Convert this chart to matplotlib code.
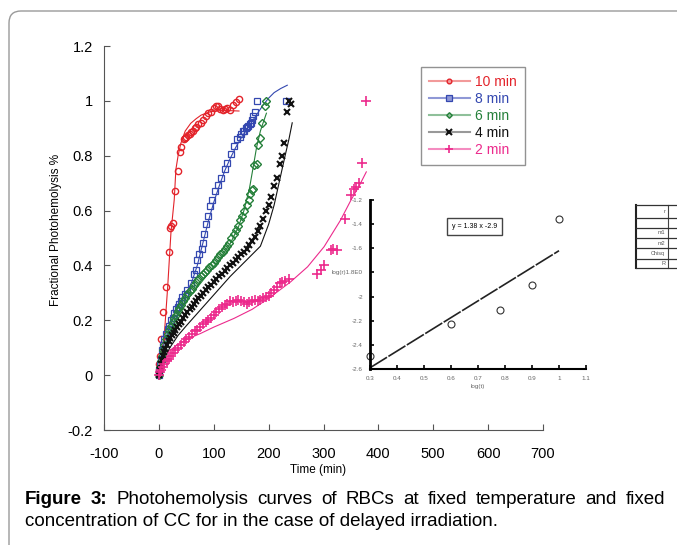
import matplotlib
matplotlib.use("Agg")
import matplotlib.pyplot as plt
from matplotlib.lines import Line2D
from matplotlib.patches import FancyBboxPatch
from matplotlib.transforms import IdentityTransform

plt.rcParams["font.family"] = ["Liberation Sans Narrow", "Liberation Sans", "DejaVu Sans"]
plt.rcParams["axes.unicode_minus"] = False

# ---- data ----
# 10 min
rx = [0, 0, 1, 2, 4, 8, 13, 18, 20, 22, 26, 29, 34, 38, 41, 45, 47, 50, 53, 56, 59, 62, 65, 68, 72,
      76, 80, 85, 89, 95, 100, 104, 108, 112, 116, 120, 125, 130, 135, 140, 146]
ry = [0, 0.02, 0.04, 0.07, 0.13, 0.23, 0.32, 0.45, 0.535, 0.545, 0.555, 0.67, 0.745, 0.815, 0.83,
      0.86, 0.865, 0.87, 0.875, 0.88, 0.885, 0.89, 0.9, 0.905, 0.915, 0.92, 0.93, 0.945, 0.955, 0.96,
      0.975, 0.98, 0.98, 0.97, 0.965, 0.97, 0.975, 0.965, 0.985, 0.995, 1.005]
rfx = [0, 5, 10, 16, 22, 28, 31, 35, 40, 48, 58, 68, 77, 90, 100, 120, 146]
rfy = [0, 0.07, 0.15, 0.32, 0.52, 0.64, 0.75, 0.8, 0.845, 0.89, 0.918, 0.935, 0.948, 0.958, 0.963, 0.965, 0.963]

# 8 min
bx = [0, 1, 2, 4, 6, 8, 10, 13, 16, 19, 22, 25, 28, 31, 34, 37, 40, 43, 47, 52, 58, 64, 67, 70, 74,
      78, 80, 83, 86, 89, 93, 97, 102, 108, 114, 120, 125, 131, 137, 143, 147, 150, 153, 155, 158,
      161, 163, 166, 168, 170, 172, 175, 178, 232]
by = [0, 0.02, 0.04, 0.06, 0.09, 0.11, 0.13, 0.15, 0.17, 0.18, 0.2, 0.21, 0.225, 0.24, 0.25, 0.26,
      0.27, 0.285, 0.295, 0.31, 0.335, 0.37, 0.385, 0.42, 0.44, 0.46, 0.48, 0.515, 0.55, 0.58, 0.615,
      0.64, 0.67, 0.695, 0.72, 0.75, 0.775, 0.805, 0.835, 0.86, 0.87, 0.88, 0.89, 0.89, 0.9, 0.905,
      0.91, 0.915, 0.92, 0.93, 0.945, 0.96, 1.0, 1.0]
bfx = [0, 5, 10, 20, 30, 40, 50, 60, 70, 80, 90, 100, 110, 120, 130, 140, 150, 160, 170, 180, 190,
       200, 210, 222, 234]
bfy = [0, 0.07, 0.12, 0.18, 0.23, 0.27, 0.3, 0.34, 0.4, 0.48, 0.56, 0.63, 0.69, 0.745, 0.79, 0.83,
       0.865, 0.895, 0.925, 0.955, 0.985, 1.01, 1.03, 1.045, 1.057]

# 6 min
gx = [0, 2, 4, 6, 8, 10, 13, 16, 19, 22, 25, 28, 31, 34, 37, 40, 44, 48, 52, 56, 60, 64, 68, 72, 76,
      80, 84, 88, 92, 96, 100, 104, 108, 112, 116, 120, 124, 128, 132, 136, 140, 144, 148, 152, 156,
      160, 164, 166, 170, 172, 174, 178, 181, 184, 188, 193, 195]
gy = [0, 0.03, 0.05, 0.07, 0.09, 0.11, 0.13, 0.15, 0.165, 0.18, 0.195, 0.21, 0.22, 0.235, 0.245,
      0.255, 0.27, 0.28, 0.295, 0.305, 0.315, 0.33, 0.34, 0.35, 0.36, 0.37, 0.375, 0.385, 0.395, 0.4,
      0.41, 0.42, 0.43, 0.44, 0.45, 0.46, 0.47, 0.48, 0.5, 0.515, 0.53, 0.545, 0.565, 0.58, 0.6, 0.62,
      0.64, 0.66, 0.675, 0.68, 0.765, 0.77, 0.84, 0.865, 0.92, 0.98, 1.0]
gfx = [0, 10, 20, 35, 50, 70, 90, 110, 130, 145, 155, 165, 172, 178, 185, 190, 196]
gfy = [0, 0.1, 0.16, 0.22, 0.27, 0.32, 0.37, 0.42, 0.48, 0.54, 0.6, 0.68, 0.76, 0.83, 0.89, 0.92, 0.955]

# 4 min
kx = [0, 2, 4, 6, 8, 10, 12, 15, 18, 21, 24, 27, 30, 33, 36, 40, 44, 48, 52, 56, 60, 64, 68, 72, 76,
      80, 85, 90, 95, 100, 105, 110, 115, 120, 125, 130, 135, 140, 145, 150, 155, 160, 165, 170, 175,
      180, 185, 190, 195, 200, 205, 210, 215, 220, 224, 228, 233, 237, 240]
ky = [0, 0.02, 0.04, 0.055, 0.07, 0.085, 0.095, 0.11, 0.125, 0.135, 0.145, 0.155, 0.165, 0.175,
      0.185, 0.195, 0.21, 0.22, 0.23, 0.24, 0.25, 0.26, 0.27, 0.28, 0.29, 0.3, 0.31, 0.32, 0.33, 0.34,
      0.35, 0.36, 0.37, 0.38, 0.39, 0.4, 0.41, 0.42, 0.43, 0.44, 0.45, 0.46, 0.475, 0.49, 0.505, 0.525,
      0.545, 0.57, 0.6, 0.62, 0.65, 0.69, 0.72, 0.77, 0.8, 0.845, 0.96, 1.0, 0.99]
kfx = [0, 10, 20, 35, 50, 70, 90, 110, 130, 150, 170, 185, 200, 210, 220, 230, 237, 243]
kfy = [0, 0.06, 0.1, 0.145, 0.18, 0.225, 0.27, 0.315, 0.36, 0.4, 0.44, 0.47, 0.55, 0.62, 0.71, 0.8, 0.86, 0.92]

# 2 min
mx = [0, 2, 4, 7, 10, 14, 18, 22, 26, 30, 35, 40, 45, 50, 55, 60, 65, 70, 75, 80, 85, 90, 95, 100,
      105, 110, 115, 120, 125, 130, 135, 140, 145, 150, 155, 160, 165, 170, 175, 180, 185, 190, 195,
      200, 205, 210, 215, 220, 225, 230, 237, 289, 295, 301, 313, 318, 325, 340, 350, 356, 360, 364,
      371, 378]
my = [0, 0.01, 0.02, 0.03, 0.04, 0.05, 0.06, 0.07, 0.08, 0.09, 0.1, 0.11, 0.12, 0.13, 0.14, 0.15,
      0.16, 0.165, 0.175, 0.185, 0.195, 0.2, 0.21, 0.22, 0.23, 0.24, 0.25, 0.255, 0.26, 0.27, 0.265,
      0.27, 0.275, 0.27, 0.265, 0.26, 0.265, 0.27, 0.275, 0.27, 0.275, 0.28, 0.285, 0.29, 0.3, 0.31,
      0.32, 0.335, 0.34, 0.345, 0.35, 0.37, 0.385, 0.4, 0.455, 0.46, 0.455, 0.57, 0.655, 0.68, 0.685,
      0.7, 0.775, 1.0]
mfx = [0, 4, 10, 20, 30, 50, 76, 100, 137, 170, 200, 240, 271, 301, 331, 350, 365, 378]
mfy = [0, 0.04, 0.07, 0.09, 0.105, 0.13, 0.152, 0.175, 0.207, 0.24, 0.28, 0.34, 0.395, 0.468,
       0.565, 0.638, 0.69, 0.741]

# inset: log(r) vs log(t)
lt = [0.3, 0.6, 0.78, 0.9, 1.0]
lr = [-2.49, -2.23, -2.11, -1.9, -1.36]
fit_t = [0.3, 1.0]
fit_r = [-2.59, -1.62]

table_rows = ["r", "", "m1", "m2", "Chisq", "R"]
caption1 = ["Photohemolysis", "curves", "of", "RBCs", "at", "fixed", "temperature", "and", "fixed"]
caption2 = "concentration of CC for in the case of delayed irradiation."

W, H = 677, 545
fig = plt.figure(figsize=(W / 100, H / 100), dpi=100)


def fx(px):
    return px / W


def fy(py):
    return 1 - py / H


# rounded page border
fig.add_artist(FancyBboxPatch((9, -60), 900, H - 11 + 60, boxstyle="round,pad=0,rounding_size=12",
                              transform=IdentityTransform(), fc="none", ec="#9a9a9a", lw=1))

ax = fig.add_axes([fx(104), fy(430), fx(543) - fx(104), fy(46) - fy(430)])
ax.set_xlim(-100, 700)
ax.set_ylim(-0.2, 1.2)
ax.spines["top"].set_visible(False)
ax.spines["right"].set_visible(False)
for s in ("left", "bottom"):
    ax.spines[s].set_color("#555")
ax.set_xticks(range(-100, 701, 100))
ax.set_yticks([-0.2, 0, 0.2, 0.4, 0.6, 0.8, 1.0, 1.2])
ax.set_yticklabels(["-0.2", "0", "0.2", "0.4", "0.6", "0.8", "1", "1.2"])
ax.tick_params(direction="in", length=4, color="#555", labelsize=10.5)
ax.tick_params(axis="x", pad=12)
ax.tick_params(axis="y", pad=8)

series = [
    ("10 min", rx, ry, rfx, rfy, "#e3242b", "#f29a9a", "o", 4.5, 1.0),
    ("8 min", bx, by, bfx, bfy, "#3448b0", "#8f98d6", "s", 5, 0.9),
    ("6 min", gx, gy, gfx, gfy, "#25803a", "#8fc09a", "D", 3.8, 1.0),
    ("4 min", kx, ky, kfx, kfy, "#111111", "#999999", "x", 5, 1.5),
    ("2 min", mx, my, mfx, mfy, "#ec2a8c", "#f48cc0", "+", 7, 1.2),
]
handles = []
for name, x, y, fxs, fys, c, lc, m, ms, mew in series:
    ax.plot(fxs, fys, color=c, lw=0.8, zorder=2)
    ax.plot(x, y, ls="none", marker=m, ms=ms, mec=c, mfc="none", mew=mew, zorder=3)
    handles.append(Line2D([], [], color=lc, lw=1.5, marker=m, ms=ms * 0.75, mec=c, mfc=lc, mew=mew))

leg = ax.legend(handles, [s[0] for s in series], loc="upper left",
                bbox_to_anchor=(fx(421), fy(67)), bbox_transform=fig.transFigure,
                fancybox=False, edgecolor="#777", fontsize=10, handlelength=3.0,
                labelspacing=0.22, borderpad=0.55, handletextpad=0.35, borderaxespad=0)
leg.get_frame().set_linewidth(1)
for t, s in zip(leg.get_texts(), series):
    t.set_color(s[5])

fig.text(fx(56), fy(230), "Fractional Photohemolysis %", rotation=90, ha="center", va="center", fontsize=8.5)
fig.text(fx(318), fy(470), "Time (min)", ha="center", va="center", fontsize=8.5)

# inset regression plot
ins = fig.add_axes([fx(370), fy(369), fx(586) - fx(370), fy(200) - fy(369)])
ins.patch.set_visible(False)
ins.set_xlim(0.3, 1.1)
ins.set_ylim(-2.6, -1.2)
ins.spines["top"].set_visible(False)
ins.spines["right"].set_visible(False)
ins.spines["left"].set_linewidth(2)
ins.spines["bottom"].set_linewidth(1.5)
ins.set_xticks([0.3, 0.4, 0.5, 0.6, 0.7, 0.8, 0.9, 1.0, 1.1])
ins.set_xticklabels(["0.3", "0.4", "0.5", "0.6", "0.7", "0.8", "0.9", "1", "1.1"])
ins.set_yticks([-2.6, -2.4, -2.2, -2.0, -1.8, -1.6, -1.4, -1.2])
ins.set_yticklabels(["-2.6", "-2.4", "-2.2", "-2", "log(r)1.8E0", "-1.6", "-1.4", "-1.2"])
ins.tick_params(direction="in", length=3, width=1.2, labelsize=4.5, labelcolor="#666", pad=5)
ins.plot(fit_t, fit_r, color="#222", lw=1.2, dashes=(12, 1))
ins.plot(lt, lr, ls="none", marker="o", ms=5, mec="#333", mfc="white", mew=0.8, clip_on=False)
ins.text(0.687, -1.42, "y = 1.38 x -2.9", fontsize=5, ha="center", va="center",
         bbox=dict(boxstyle="square,pad=0.7", fc="white", ec="#444", lw=1))
ins.set_xlabel("log(t)", fontsize=4.5, color="#666", labelpad=2)

# little stats table on the right
row_edges = [205, 218, 228, 238, 248, 259, 268]
fig.add_artist(Line2D([fx(636), fx(636)], [fy(205), fy(268)], color="#222", lw=1.5))
fig.add_artist(Line2D([fx(668), fx(668)], [fy(205), fy(268)], color="#444", lw=0.8))
for e in row_edges:
    fig.add_artist(Line2D([fx(636), fx(677)], [fy(e), fy(e)], color="#333", lw=0.9))
for i, lab in enumerate(table_rows):
    if lab:
        fig.text(fx(665), fy((row_edges[i] + row_edges[i + 1]) / 2), lab, fontsize=4,
                 ha="right", va="center", color="#555")

# caption, first line justified
renderer = fig.canvas.get_renderer()
left, right = 25, 665
cap_fs = 13.5
words = [fig.text(0, fy(499), "Figure", fontsize=cap_fs, weight="bold", va="center"),
         fig.text(0, fy(499), "3:", fontsize=cap_fs, weight="bold", va="center")]
words += [fig.text(0, fy(499), w, fontsize=cap_fs, va="center") for w in caption1]
widths = [t.get_window_extent(renderer).width for t in words]
gap = (right - left - sum(widths)) / (len(words) - 1)
pos = left
for t, w in zip(words, widths):
    t.set_x(fx(pos))
    pos += w + gap
fig.text(fx(left), fy(521), caption2, fontsize=cap_fs, va="center")

fig.savefig("out.png", dpi=100)
